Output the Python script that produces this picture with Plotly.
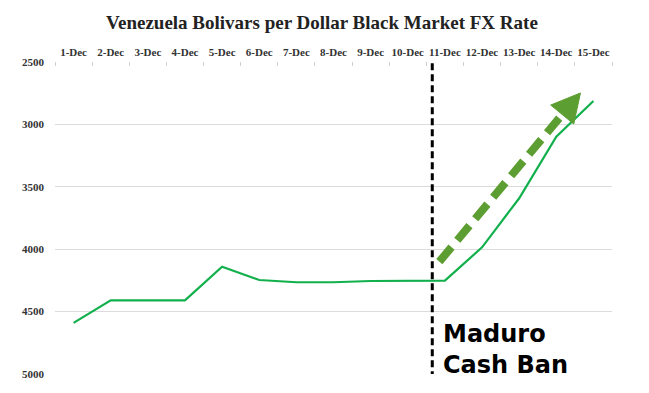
import plotly.graph_objects as go

dates = ["1-Dec", "2-Dec", "3-Dec", "4-Dec", "5-Dec", "6-Dec", "7-Dec", "8-Dec",
         "9-Dec", "10-Dec", "11-Dec", "12-Dec", "13-Dec", "14-Dec", "15-Dec"]
rates = [4590, 4410, 4410, 4410, 4140, 4247, 4265, 4265, 4255, 4255, 4252,
         3985, 3592, 3098, 2812]
y_ticks = [2500, 3000, 3500, 4000, 4500, 5000]

xs = list(range(len(dates)))

fig = go.Figure()
fig.add_trace(go.Scatter(x=xs, y=rates, mode="lines",
                         line=dict(color="#12b04c", width=2.2), hoverinfo="skip"))

serif = "Liberation Serif, Times New Roman, serif"

fig.update_layout(
    width=649, height=393,
    margin=dict(l=55, r=37, t=62, b=19),
    paper_bgcolor="white", plot_bgcolor="white",
    showlegend=False,
    title=dict(text="<b>Venezuela Bolivars per Dollar Black Market FX Rate</b>",
               x=0.496, xanchor="center", y=0.942, yanchor="middle",
               font=dict(family=serif, size=19, color="#222")),
    xaxis=dict(range=[-0.5, 14.5], side="top", tickvals=xs,
               ticktext=["<b>%s</b>" % d for d in dates],
               tickfont=dict(family=serif, size=11, color="#333"),
               showgrid=False, zeroline=False, showline=False, ticks="",
               ticklabelstandoff=3,
               minor=dict(tickvals=[i - 0.5 for i in range(16)], ticks="inside",
                          ticklen=4, tickcolor="#d0d0d0", showgrid=False)),
    yaxis=dict(range=[5000, 2500], autorange=False, tickvals=y_ticks,
               ticktext=["<b>%d</b>" % v for v in y_ticks],
               tickfont=dict(family=serif, size=11, color="#333"),
               showgrid=True, gridcolor="#dcdcdc", gridwidth=1,
               zeroline=False, showline=False, ticks="", ticklabelstandoff=10),
)

# vertical dashed line (cash ban)
fig.add_shape(type="line", x0=9.66, x1=9.66, y0=2510, y1=5000, xref="x", yref="y",
              line=dict(color="black", width=3, dash="7px,4px"))

# green dashed arrow
fig.add_shape(type="line", x0=9.85, y0=4100, x1=13.16, y1=2921, xref="x", yref="y",
              line=dict(color="#5c9e31", width=8, dash="19px,9px"))
fig.add_shape(type="path", xref="x", yref="y",
              path="M 13.65 2748 L 13.47 2997 L 12.85 2845 Z",
              fillcolor="#5c9e31", line=dict(color="#5c9e31", width=1))

fig.add_annotation(x=9.9, y=4551, xref="x", yref="y", xanchor="left", yanchor="top",
                   text="<b>Maduro<br>Cash Ban</b>", showarrow=False, align="left",
                   font=dict(family="DejaVu Sans, Verdana, sans-serif", size=24, color="black"))

fig.write_html("out.html", config={"displayModeBar": False},
               post_script="document.body.style.margin='0';")
